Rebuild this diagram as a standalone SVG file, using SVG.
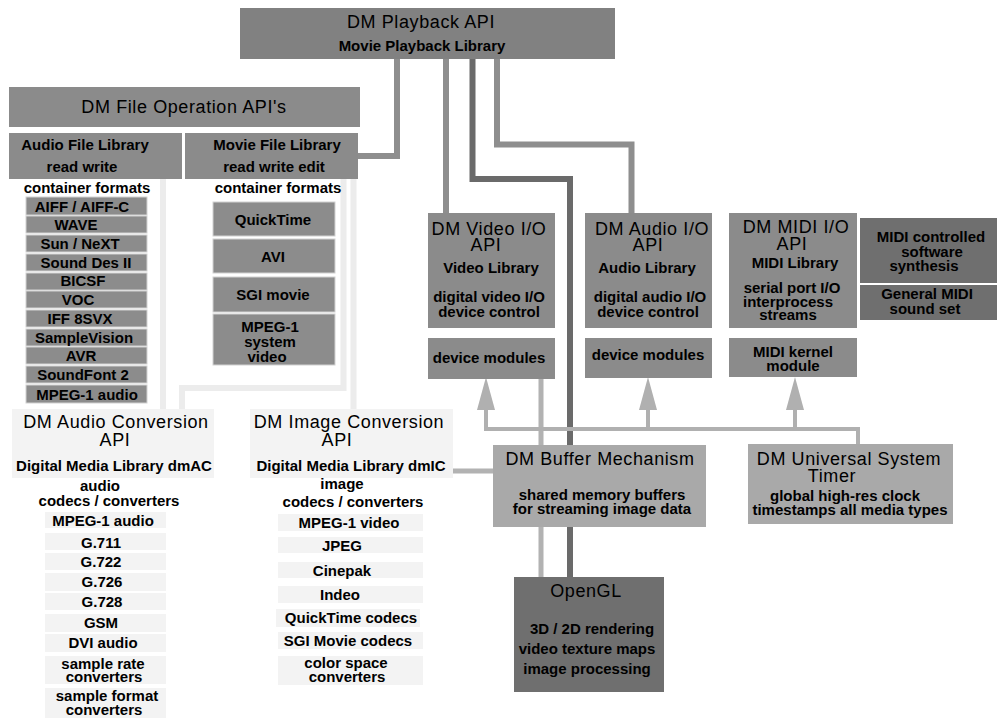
<svg xmlns="http://www.w3.org/2000/svg" width="997" height="719" viewBox="0 0 997 719">
<style>
text{font-family:"Liberation Sans",Arial,sans-serif;fill:#000;text-anchor:middle}
.h{font-size:18px;letter-spacing:0.6px}
.s{font-size:15px;font-weight:bold}
.pb{fill:#818181}
.g2{fill:#8b8b8b}
.item{fill:#8c8c8c;stroke:#d2d2d2;stroke-width:1}
.g3{fill:#a9a9a9}
.g4{fill:#6f6f6f}
.lt{fill:#f3f3f3}
.c{fill:none;stroke-width:6;stroke-linejoin:miter}
.cm{stroke:#8e8e8e}
.cd{stroke:#6a6a6a}
.cl{stroke:#ececec}
.cb{fill:none;stroke:#b2b2b2;stroke-width:5}
.ct{fill:none;stroke:#b0b0b0;stroke-width:4}
</style>
<defs>
<marker id="ah" markerUnits="userSpaceOnUse" markerWidth="34" markerHeight="20" viewBox="0 0 34 20" refX="0" refY="10" orient="auto">
<path d="M0,1 L33,10 L0,19 Z" fill="#b0b0b0"/>
</marker>
</defs>
<rect width="997" height="719" fill="#fff"/>
<g id="connectors">
<path class="c cm" d="M397,59 V156 H358"/>
<path class="c cm" d="M446,59 V213"/>
<path class="c cm" d="M497,59 V144.5 H631.5 V213"/>
<path class="c cl" d="M163,179 V409"/>
<path class="c cl" d="M343.5,179 V388 H182 V409"/>
<path class="c cl" d="M353.5,179 V409"/>
<path class="cb" d="M541,379 V577"/>
<path class="cb" d="M453,471 H493"/>
<path class="c cd" d="M472.5,59 V179 H570 V577"/>
<path class="ct" d="M858,444 V429 H486 V410" marker-end="url(#ah)"/>
<path class="ct" d="M648,429 V410" marker-end="url(#ah)"/>
<path class="ct" d="M795,429 V410" marker-end="url(#ah)"/>
</g>
<g id="playback">
<rect class="pb" x="240" y="8" width="375" height="51"/>
<text class="h" x="421" y="28">DM Playback API</text>
<text class="s" x="422" y="51">Movie Playback Library</text>
</g>
<g id="fileop">
<rect class="g2" x="9" y="87" width="351" height="40"/>
<text class="h" x="184" y="113">DM File Operation API's</text>
</g>
<g id="audiofile">
<rect class="g2" x="9" y="133" width="173" height="46"/>
<text class="s" x="85" y="150">Audio File Library</text>
<text class="s" x="82" y="172">read  write</text>
<text class="s" x="87" y="193">container formats</text>
</g>
<g id="audioformats">
<rect class="item" x="26" y="197" width="121" height="18"/><text class="s" x="82" y="212">AIFF / AIFF-C</text>
<rect class="item" x="26" y="216" width="121" height="17"/><text class="s" x="76" y="230">WAVE</text>
<rect class="item" x="26" y="235" width="121" height="17"/><text class="s" x="80" y="249">Sun / NeXT</text>
<rect class="item" x="26" y="254" width="121" height="17"/><text class="s" x="86" y="268">Sound Des  II</text>
<rect class="item" x="26" y="273" width="121" height="17"/><text class="s" x="83" y="286">BICSF</text>
<rect class="item" x="26" y="291" width="121" height="17"/><text class="s" x="78" y="305">VOC</text>
<rect class="item" x="26" y="310" width="121" height="17"/><text class="s" x="80" y="324">IFF 8SVX</text>
<rect class="item" x="26" y="329" width="121" height="17"/><text class="s" x="84" y="343">SampleVision</text>
<rect class="item" x="26" y="347" width="121" height="17"/><text class="s" x="81" y="361">AVR</text>
<rect class="item" x="26" y="366" width="121" height="17"/><text class="s" x="83" y="380">SoundFont 2</text>
<rect class="item" x="26" y="385" width="121" height="18"/><text class="s" x="87" y="400">MPEG-1 audio</text>
</g>
<g id="moviefile">
<rect class="g2" x="185" y="133" width="173" height="46"/>
<text class="s" x="277" y="150">Movie File Library</text>
<text class="s" x="274" y="172">read  write  edit</text>
<text class="s" x="278" y="193">container formats</text>
</g>
<g id="movieformats">
<rect class="item" x="213" y="202" width="122" height="34"/><text class="s" x="273" y="225">QuickTime</text>
<rect class="item" x="213" y="239" width="122" height="34"/><text class="s" x="273" y="262">AVI</text>
<rect class="item" x="213" y="277" width="122" height="35"/><text class="s" x="273" y="300">SGI movie</text>
<rect class="item" x="213" y="314" width="122" height="51"/>
<text class="s" x="270" y="332">MPEG-1</text>
<text class="s" x="270" y="347">system</text>
<text class="s" x="267" y="362">video</text>
</g>
<g id="videoio">
<rect class="g2" x="428" y="213" width="127" height="115"/>
<text class="h" x="489" y="235">DM Video I/O</text>
<text class="h" x="486" y="251">API</text>
<text class="s" x="491" y="273">Video Library</text>
<text class="s" x="489" y="302">digital video I/O</text>
<text class="s" x="489" y="317">device control</text>
</g>
<g id="videomodules">
<rect class="g2" x="428" y="338" width="127" height="41"/>
<text class="s" x="489" y="363">device modules</text>
</g>
<g id="audioio">
<rect class="g2" x="585" y="213" width="127" height="115"/>
<text class="h" x="652" y="235">DM Audio I/O</text>
<text class="h" x="648" y="251">API</text>
<text class="s" x="647" y="273">Audio Library</text>
<text class="s" x="650" y="302">digital audio I/O</text>
<text class="s" x="648" y="317">device control</text>
</g>
<g id="audiomodules">
<rect class="g2" x="585" y="338" width="127" height="40"/>
<text class="s" x="648" y="360">device modules</text>
</g>
<g id="midiio">
<rect class="g2" x="729" y="213" width="128" height="115"/>
<text class="h" x="796" y="233">DM MIDI I/O</text>
<text class="h" x="792" y="250">API</text>
<text class="s" x="795" y="268">MIDI Library</text>
<text class="s" x="792" y="293">serial port I/O</text>
<text class="s" x="788" y="307">interprocess</text>
<text class="s" x="788" y="320">streams</text>
</g>
<g id="midikernel">
<rect class="g2" x="729" y="338" width="128" height="39"/>
<text class="s" x="793" y="357">MIDI kernel</text>
<text class="s" x="793" y="371">module</text>
</g>
<g id="midisynth">
<rect class="g4" x="860" y="218" width="137" height="65"/>
<text class="s" x="931" y="242">MIDI controlled</text>
<text class="s" x="932" y="257">software</text>
<text class="s" x="924" y="271">synthesis</text>
</g>
<g id="gmidi">
<rect class="g4" x="860" y="285" width="137" height="35"/>
<text class="s" x="927" y="299">General MIDI</text>
<text class="s" x="925" y="314">sound set</text>
</g>
<g id="buffer">
<rect class="g3" x="493" y="445" width="213" height="82"/>
<text class="h" x="600" y="465">DM Buffer Mechanism</text>
<text class="s" x="602" y="500">shared memory buffers</text>
<text class="s" x="602" y="514">for streaming image data</text>
</g>
<g id="timer">
<rect class="g3" x="748" y="444" width="205" height="80"/>
<text class="h" x="849" y="465">DM Universal System</text>
<text class="h" x="832" y="482">Timer</text>
<text class="s" x="845" y="501">global high-res clock</text>
<text class="s" x="850" y="515">timestamps all media types</text>
</g>
<g id="opengl">
<rect class="g4" x="514" y="577" width="150" height="115"/>
<text class="h" x="586" y="597">OpenGL</text>
<text class="s" x="592" y="634">3D /  2D rendering</text>
<text class="s" x="587" y="654">video texture maps</text>
<text class="s" x="587" y="674">image processing</text>
</g>
<g id="audioconv">
<rect class="lt" x="12" y="409" width="202" height="69"/>
<text class="h" x="116" y="428">DM Audio Conversion</text>
<text class="h" x="115" y="446">API</text>
<text class="s" x="114" y="471">Digital Media Library dmAC</text>
<text class="s" x="100" y="491">audio</text>
<text class="s" x="109" y="506">codecs / converters</text>
</g>
<g id="audiocodecs">
<rect class="lt" x="45" y="512" width="121" height="16"/><text class="s" x="103" y="526">MPEG-1 audio</text>
<rect class="lt" x="45" y="533" width="121" height="17"/><text class="s" x="101" y="548">G.711</text>
<rect class="lt" x="45" y="553" width="121" height="17"/><text class="s" x="101" y="567">G.722</text>
<rect class="lt" x="45" y="573" width="121" height="18"/><text class="s" x="102" y="587">G.726</text>
<rect class="lt" x="45" y="593" width="121" height="17"/><text class="s" x="102" y="607">G.728</text>
<rect class="lt" x="45" y="614" width="121" height="18"/><text class="s" x="101" y="628">GSM</text>
<rect class="lt" x="45" y="634" width="121" height="18"/><text class="s" x="103" y="648">DVI audio</text>
<rect class="lt" x="45" y="656" width="121" height="28"/>
<text class="s" x="103" y="669">sample rate</text>
<text class="s" x="104" y="682">converters</text>
<rect class="lt" x="45" y="688" width="121" height="30"/>
<text class="s" x="107" y="701">sample format</text>
<text class="s" x="104" y="715">converters</text>
</g>
<g id="imageconv">
<rect class="lt" x="250" y="409" width="203" height="69"/>
<text class="h" x="349" y="428">DM Image Conversion</text>
<text class="h" x="337" y="446">API</text>
<text class="s" x="351" y="471">Digital Media Library dmIC</text>
<text class="s" x="342" y="489">image</text>
<text class="s" x="353" y="507">codecs / converters</text>
</g>
<g id="imagecodecs">
<rect class="lt" x="278" y="514" width="145" height="17"/><text class="s" x="349" y="528">MPEG-1 video</text>
<rect class="lt" x="278" y="537" width="145" height="16"/><text class="s" x="342" y="551">JPEG</text>
<rect class="lt" x="278" y="562" width="145" height="16"/><text class="s" x="342" y="576">Cinepak</text>
<rect class="lt" x="278" y="586" width="145" height="17"/><text class="s" x="340" y="600">Indeo</text>
<rect class="lt" x="276" y="609" width="144" height="18"/><text class="s" x="351" y="623">QuickTime codecs</text>
<rect class="lt" x="278" y="632" width="145" height="17"/><text class="s" x="348" y="646">SGI Movie codecs</text>
<rect class="lt" x="278" y="656" width="145" height="29"/>
<text class="s" x="346" y="668">color space</text>
<text class="s" x="347" y="682">converters</text>
</g>
</svg>
